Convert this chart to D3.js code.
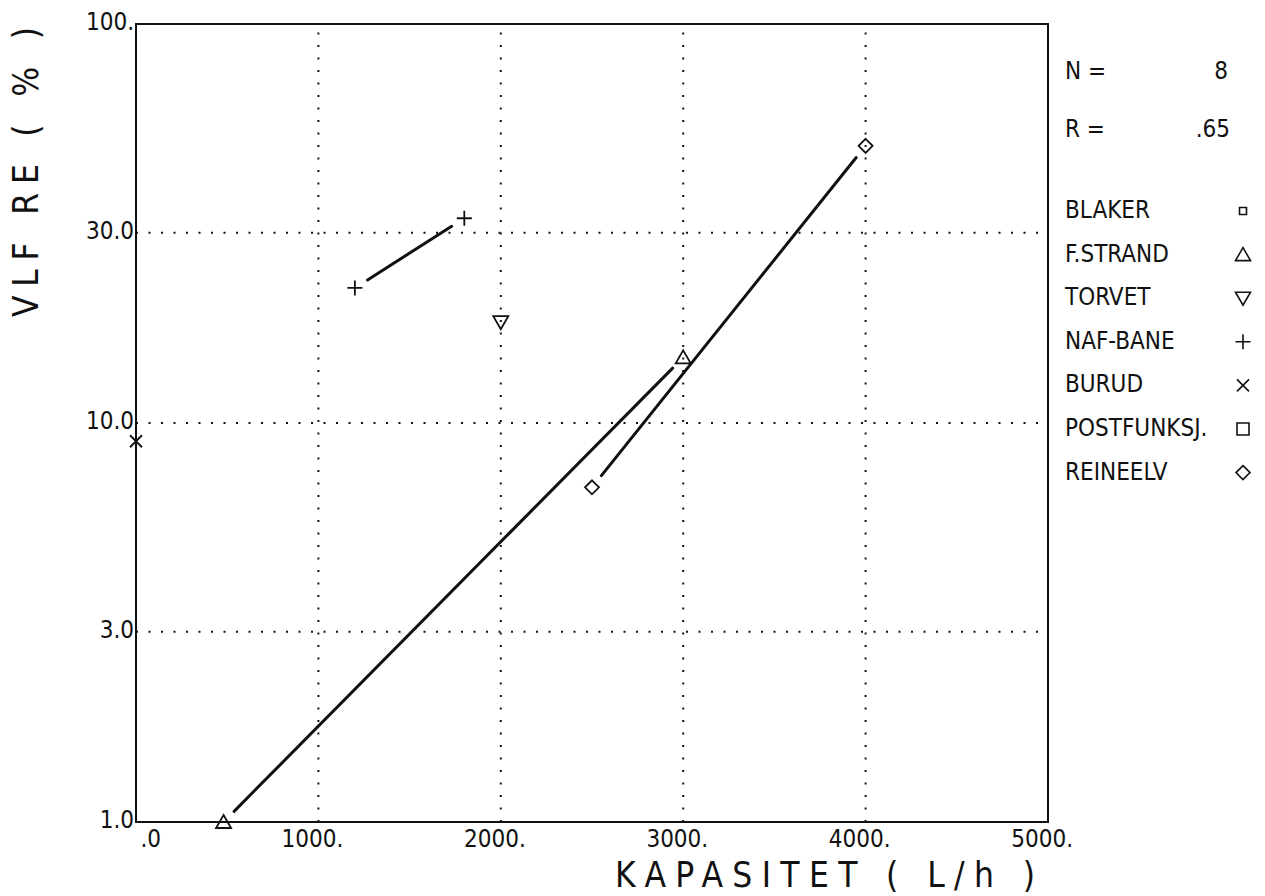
<!DOCTYPE html>
<html><head><meta charset="utf-8">
<script src="https://cdn.jsdelivr.net/npm/d3@7"></script>
<style>
html,body{margin:0;padding:0;background:#fff;}
svg{display:block;}
text{font-family:"DejaVu Sans Condensed","DejaVu Sans",sans-serif;fill:#111;}
</style></head>
<body>
<svg id="chart" width="1265" height="896"></svg>
<script>
// ---- data ----
const groups = ["BLAKER","F.STRAND","TORVET","NAF-BANE","BURUD","POSTFUNKSJ.","REINEELV"];
const symbolKinds = ["smallSquare","triangle","triangleDown","plus","cross","square","diamond"];
const blakerX = [], blakerY = [];
const fstrandX = [480, 3000], fstrandY = [1.0, 14.6];
const torvetX = [2000], torvetY = [17.9];
const nafX = [1200, 1800], nafY = [21.8, 32.6];
const burudX = [0], burudY = [9.0];
const postX = [], postY = [];
const reineelvX = [2500, 4000], reineelvY = [6.9, 49.5];
const xTicks = [0, 1000, 2000, 3000, 4000, 5000];
const xTickLabels = [".0", "1000.", "2000.", "3000.", "4000.", "5000."];
const yTicks = [1, 3, 10, 30, 100];
const yTickLabels = ["1.0", "3.0", "10.0", "30.0", "100."];
const xGrid = [1000, 2000, 3000, 4000];
const yGrid = [3, 10, 30];
const statN = "8", statR = ".65";

const seriesX = [blakerX, fstrandX, torvetX, nafX, burudX, postX, reineelvX];
const seriesY = [blakerY, fstrandY, torvetY, nafY, burudY, postY, reineelvY];

// ---- layout ----
const svg = d3.select("#chart");
const L = 136, R = 1048, T = 24, B = 822;
const x = d3.scaleLinear().domain([0, 5000]).range([L, R]);
const y = d3.scaleLog().domain([1, 100]).range([B, T]);

function symPath(kind) {
  switch (kind) {
    case "smallSquare": return "M-3.5,-3.5H3.5V3.5H-3.5Z";
    case "square": return "M-6,-6H6V6H-6Z";
    case "triangle": return "M0,-7L7.5,6H-7.5Z";
    case "triangleDown": return "M-7.5,-6H7.5L0,7Z";
    case "plus": return "M-7.5,0H7.5M0,-7.5V7.5";
    case "cross": return "M-6,-6L6,6M-6,6L6,-6";
    case "diamond": return "M0,-7L7,0L0,7L-7,0Z";
  }
}

// grid
const g = svg.append("g");
g.selectAll("line.vg").data(xGrid).join("line")
  .attr("x1", d => x(d)).attr("x2", d => x(d)).attr("y1", B).attr("y2", T)
  .attr("stroke", "#111").attr("stroke-width", 2).attr("stroke-dasharray", "2,10.5");
g.selectAll("line.hg").data(yGrid).join("line")
  .attr("x1", L).attr("x2", R).attr("y1", d => y(d)).attr("y2", d => y(d))
  .attr("stroke", "#111").attr("stroke-width", 2).attr("stroke-dasharray", "2,10.5");

// frame
svg.append("rect").attr("x", L).attr("y", T).attr("width", R - L).attr("height", B - T)
  .attr("fill", "none").attr("stroke", "#111").attr("stroke-width", 2);

// tick labels
svg.selectAll("text.xt").data(xTicks).join("text")
  .attr("x", d => x(d) + 25).attr("y", B + 25).attr("text-anchor", "end")
  .attr("font-size", 24).text((d, i) => xTickLabels[i]);
svg.selectAll("text.yt").data(yTicks).join("text")
  .attr("x", L - 2).attr("y", d => y(d) + 6).attr("text-anchor", "end")
  .attr("font-size", 24).text((d, i) => yTickLabels[i]);

// axis titles
svg.append("text").attr("x", 615).attr("y", 887).attr("font-size", 35)
  .attr("textLength", 420).attr("lengthAdjust", "spacing")
  .text("KAPASITET ( L/h )");
svg.append("text").attr("transform", "translate(38,317) rotate(-90)")
  .attr("font-size", 35).attr("textLength", 290).attr("lengthAdjust", "spacing")
  .text("VLF RE ( % )");

// regression / connecting lines, shortened near the markers
seriesX.forEach((xs, i) => {
  if (xs.length < 2) return;
  const ys = seriesY[i];
  const x1 = x(xs[0]), y1 = y(ys[0]), x2 = x(xs[1]), y2 = y(ys[1]);
  const len = Math.hypot(x2 - x1, y2 - y1);
  const ux = (x2 - x1) / len, uy = (y2 - y1) / len;
  const gap = 15;
  svg.append("line")
    .attr("x1", x1 + ux * gap).attr("y1", y1 + uy * gap)
    .attr("x2", x2 - ux * gap).attr("y2", y2 - uy * gap)
    .attr("stroke", "#111").attr("stroke-width", 3).attr("stroke-linecap", "round");
});

// markers
seriesX.forEach((xs, i) => {
  xs.forEach((xv, j) => {
    svg.append("path").attr("d", symPath(symbolKinds[i]))
      .attr("transform", `translate(${x(xv)},${y(seriesY[i][j])})`)
      .attr("fill", "none").attr("stroke", "#111").attr("stroke-width", 1.8);
  });
});

// stats
svg.append("text").attr("x", 1065).attr("y", 79).attr("font-size", 24).text("N  =");
svg.append("text").attr("x", 1228).attr("y", 79).attr("font-size", 24).attr("text-anchor", "end").text(statN);
svg.append("text").attr("x", 1065).attr("y", 137).attr("font-size", 24).text("R  =");
svg.append("text").attr("x", 1230).attr("y", 137).attr("font-size", 24).attr("text-anchor", "end").text(statR);

// legend
const legY0 = 209, legDy = 43.6;
groups.forEach((name, i) => {
  const cy = legY0 + i * legDy;
  svg.append("text").attr("x", 1065).attr("y", cy + 9).attr("font-size", 24).text(name);
  svg.append("path").attr("d", symPath(symbolKinds[i]))
    .attr("transform", `translate(1243,${cy + 2})`)
    .attr("fill", "none").attr("stroke", "#111").attr("stroke-width", 1.6);
});
</script>
</body></html>
